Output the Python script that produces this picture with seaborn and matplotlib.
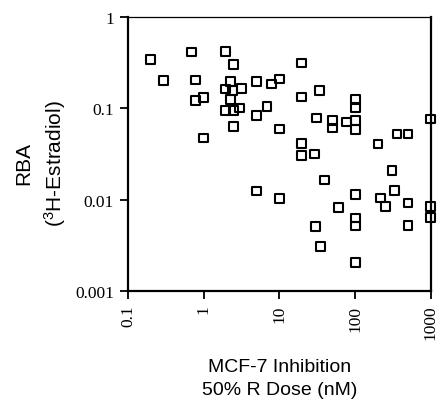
import pandas as pd
import matplotlib
matplotlib.use("Agg")
import matplotlib.pyplot as plt
import seaborn as sns

#
# Data
#
dose = [0.198, 0.689, 0.292, 0.789, 0.789, 1.0, 0.99,
        1.96, 2.50, 2.26, 1.945, 2.43, 3.16, 2.26, 1.945, 2.50, 3.0, 2.50,
        4.96, 7.87, 10.0, 6.88, 4.96, 10.0, 5.0, 10.0,
        19.6, 19.6, 34.1, 100, 100, 31.1, 50.6, 50.6, 77.5, 100, 100,
        1000, 357, 499, 200, 19.6, 19.6, 29.3, 39.7,
        100, 60.8, 100, 100, 29.9, 34.8, 100,
        307, 333, 214, 253, 499, 1000, 1000, 500]
rba = [0.342, 0.414, 0.2015, 0.204, 0.123, 0.132, 0.0473,
       0.419, 0.2996, 0.1976, 0.1627, 0.1567, 0.1656, 0.124, 0.0941, 0.0941, 0.1008, 0.0635,
       0.1976, 0.1846, 0.2094, 0.104, 0.083, 0.0593, 0.0124, 0.0102,
       0.3134, 0.133, 0.156, 0.124, 0.1026, 0.0783, 0.0735, 0.0609, 0.0708, 0.0735, 0.0583,
       0.0763, 0.0523, 0.0523, 0.0406, 0.0414, 0.0304, 0.0316, 0.0164,
       0.0113, 0.00824, 0.00629, 0.00514, 0.0051, 0.00308, 0.00205,
       0.0208, 0.0127, 0.0104, 0.00834, 0.00918, 0.00834, 0.00632, 0.0052]

xticks = [0.1, 1, 10, 100, 1000]
xticklabels = ["0.1", "1", "10", "100", "1000"]
yticks = [0.001, 0.01, 0.1, 1]
yticklabels = ["0.001", "0.01", "0.1", "1"]

df = pd.DataFrame({"dose": dose, "rba": rba})

#
# Plot
#
sns.set_style("ticks")
plt.rcParams["mathtext.fontset"] = "custom"
plt.rcParams["mathtext.rm"] = "Liberation Sans"
plt.rcParams["mathtext.it"] = "Liberation Sans"
plt.rcParams["text.color"] = "black"
plt.rcParams["axes.labelcolor"] = "black"
plt.rcParams["xtick.color"] = "black"
plt.rcParams["ytick.color"] = "black"

fig = plt.figure(figsize=(4.41, 4.02), dpi=100)
ax = fig.add_axes([0.290, 0.274, 0.687, 0.681])

sns.scatterplot(data=df, x="dose", y="rba", marker="s", s=40,
                facecolors="none", edgecolor="black", linewidth=1.5,
                ax=ax, zorder=3, clip_on=False)

ax.set_xscale("log")
ax.set_yscale("log")
ax.set_xlim(0.1, 1000)
ax.set_ylim(0.001, 1)

ax.set_xticks(xticks)
ax.set_xticklabels(xticklabels, rotation=90, family="Liberation Serif", fontsize=12.5)
ax.set_yticks(yticks)
ax.set_yticklabels(yticklabels, family="Liberation Serif", fontsize=12.5)
ax.minorticks_off()
ax.tick_params(direction="out", length=6, width=1.3, pad=4)

for side in ["left", "bottom", "right"]:
    ax.spines[side].set_linewidth(1.6)
    ax.spines[side].set_color("black")
ax.spines["top"].set_linewidth(0.9)
ax.spines["top"].set_color("black")

ax.set_xlabel("MCF-7 Inhibition\n50% R Dose (nM)", family="Liberation Sans",
              fontsize=14, linespacing=1.45)
ax.xaxis.set_label_coords(0.5, -0.245)
ax.set_ylabel("RBA\n($^{3}$H-Estradiol)", family="Liberation Sans",
              fontsize=15, linespacing=1.45)
ax.yaxis.set_label_coords(-0.198, 0.47)

fig.savefig("out.png", dpi=100)
